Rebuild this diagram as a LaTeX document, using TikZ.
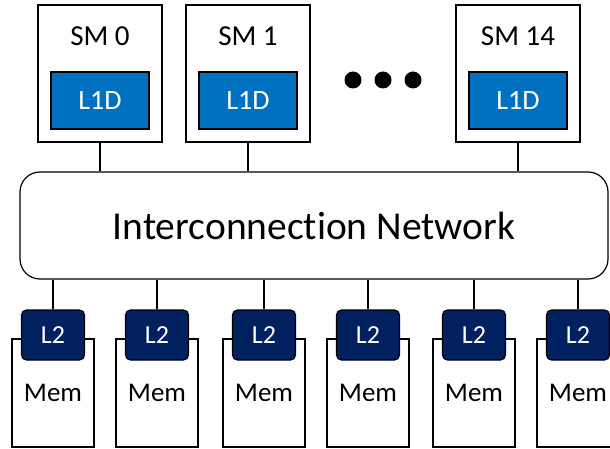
\documentclass[tikz,border=0pt]{standalone}
\usepackage{fontspec}
\setmainfont{Carlito}[Ligatures=NoCommon]
\usetikzlibrary{positioning}
\definecolor{lonefill}{RGB}{0,112,192}
\definecolor{ltwofill}{RGB}{0,32,96}

\tikzset{
  smbox/.style={draw, line width=1.2pt, minimum width=124pt, minimum height=137pt, inner sep=0pt},
  smtext/.style={font=\fontsize{29}{32}\selectfont, inner sep=0pt},
  lonebox/.style={draw, line width=1.2pt, fill=lonefill, text=white, minimum width=98pt, minimum height=57pt, font=\fontsize{28}{31}\selectfont},
  netbox/.style={draw, line width=1.2pt, rounded corners=20pt, minimum width=588pt, minimum height=107pt, font=\fontsize{39.5}{44}\selectfont},
  membox/.style={draw, line width=1.2pt, fill=white, minimum width=82pt, minimum height=108pt, font=\fontsize{27}{30}\selectfont},
  ltwobox/.style={draw, line width=1.2pt, fill=ltwofill, text=white, rounded corners=5pt, minimum width=63pt, minimum height=50pt, font=\fontsize{26}{29}\selectfont},
  wire/.style={line width=1.2pt}
}

\begin{document}
\begin{tikzpicture}[x=1pt,y=-1pt]
  \useasboundingbox (0,0) rectangle (610,449);

  \node[smbox] (sm0) at (100,73.5) {};
  \node[smbox] (sm1) at (248,73.5) {};
  \node[smbox] (sm14) at (518,73.5) {};
  \node[smtext] (sm0txt) at ([yshift=-32pt]sm0.north) {SM 0};
  \node[smtext] (sm1txt) at ([yshift=-32pt]sm1.north) {SM 1};
  \node[smtext] (sm14txt) at ([yshift=-32pt]sm14.north) {SM 14};
  \node[lonebox] (l1d0) at (100,100.5) {L1D};
  \node[lonebox] (l1d1) at (248,100.5) {L1D};
  \node[lonebox] (l1d14) at (518,100.5) {L1D};

  \fill (353,80) circle (8.5pt) (383,80) circle (8.5pt) (413,80) circle (8.5pt);

  \node[netbox] (net) at (314,225.5) {Interconnection Network};

  \path[wire] (sm0.south) edge (sm0.south |- net.north);
  \path[wire] (sm1.south) edge (sm1.south |- net.north);
  \path[wire] (sm14.south) edge (sm14.south |- net.north);

  \foreach \i/\x in {1/53,2/157,3/264,4/368,5/474,6/578} {
    \node[membox] (mem\i) at (\x,393) {Mem};
    \node[ltwobox] (ltwo\i) at (\x,335) {L2};
    \path[wire] (ltwo\i.north) edge (ltwo\i.north |- net.south);
  }
\end{tikzpicture}
\end{document}
